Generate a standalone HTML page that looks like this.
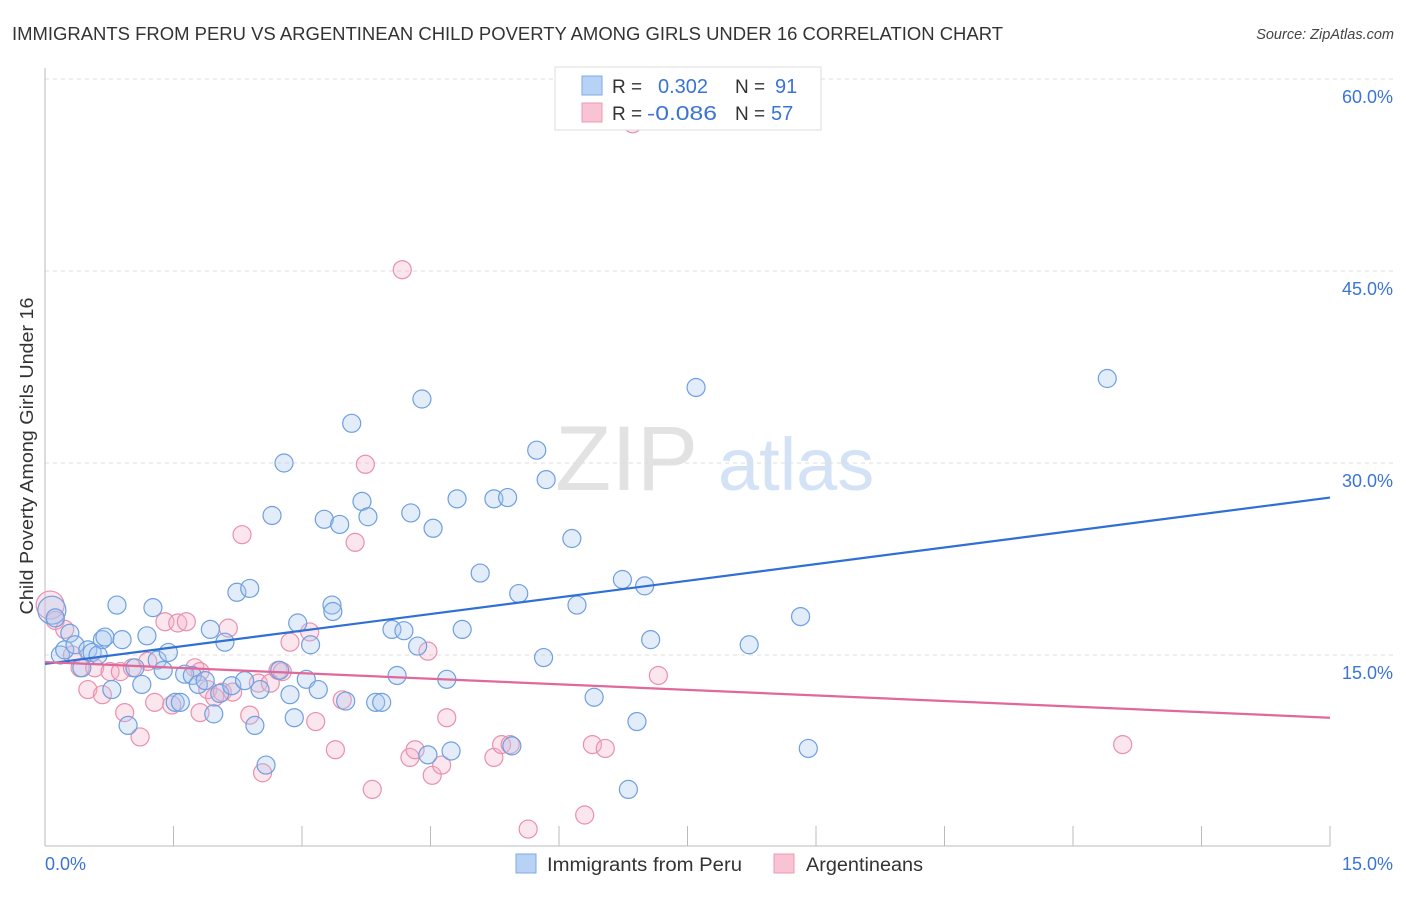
<!DOCTYPE html>
<html><head><meta charset="utf-8"><style>
body{margin:0;background:#fff;font-family:"Liberation Sans",sans-serif;}
svg text{font-family:"Liberation Sans",sans-serif;}
</style></head><body>
<svg id="chart" width="1406" height="892" xmlns="http://www.w3.org/2000/svg">
<text x="12" y="40" font-size="18" fill="#333" textLength="991" lengthAdjust="spacingAndGlyphs">IMMIGRANTS FROM PERU VS ARGENTINEAN CHILD POVERTY AMONG GIRLS UNDER 16 CORRELATION CHART</text>
<text x="1394" y="39" font-size="14.5" fill="#444" text-anchor="end" font-style="italic">Source: ZipAtlas.com</text>
<text transform="translate(33,456) rotate(-90)" font-size="18" fill="#333" text-anchor="middle" textLength="317" lengthAdjust="spacingAndGlyphs">Child Poverty Among Girls Under 16</text>
<g><text x="555" y="490" font-size="92" fill="#e2e2e2" font-family="Liberation Serif">ZIP</text><text x="718" y="490" font-size="74" fill="#d4e2f5">atlas</text></g>
<g id="grid"></g><g id="axes"></g><g id="marks"></g>
<g>
<rect x="555" y="67" width="266" height="63" fill="#fff" stroke="#ddd"/>
<rect x="582" y="76" width="20" height="19" fill="#b8d2f5" stroke="#7ea9e3"/>
<rect x="582" y="103" width="20" height="19" fill="#f8c3d3" stroke="#ec98b5"/>
<text x="612" y="93" font-size="19" fill="#333">R =</text><text x="658" y="93" font-size="20" fill="#3a74d4">0.302</text>
<text x="735" y="93" font-size="19" fill="#333">N =</text><text x="775" y="93" font-size="20" fill="#3a74d4">91</text>
<text x="612" y="120" font-size="19" fill="#333">R =</text><text x="647" y="120" font-size="20" fill="#3a74d4" textLength="70" lengthAdjust="spacingAndGlyphs">-0.086</text>
<text x="735" y="120" font-size="19" fill="#333">N =</text><text x="771" y="120" font-size="20" fill="#3a74d4">57</text>
</g>
<g>
<rect x="516" y="854" width="20" height="19" fill="#b8d2f5" stroke="#7ea9e3"/>
<text x="547" y="871" font-size="19" fill="#333" textLength="195" lengthAdjust="spacingAndGlyphs">Immigrants from Peru</text>
<rect x="774" y="854" width="20" height="19" fill="#f8c3d3" stroke="#ec98b5"/>
<text x="806" y="871" font-size="19" fill="#333" textLength="117" lengthAdjust="spacingAndGlyphs">Argentineans</text>
</g>
</svg>
<script>
const yTicks=[15,30,45,60];
const yTickLabels=["15.0%","30.0%","45.0%","60.0%"];
const xTickLabels=["0.0%","15.0%"];
const blueX=[0.08,0.12,0.18,0.23,0.29,0.35,0.43,0.50,0.55,0.62,0.67,0.70,0.78,0.84,0.90,0.97,1.05,1.13,1.19,1.26,1.31,1.38,1.44,1.52,1.58,1.63,1.72,1.79,1.87,1.93,1.97,2.04,2.10,2.18,2.24,2.33,2.39,2.45,2.51,2.58,2.65,2.74,2.79,2.86,2.91,2.95,3.05,3.10,3.19,3.26,3.35,3.36,3.44,3.51,3.58,3.70,3.77,3.86,3.93,4.05,4.11,4.19,4.27,4.35,4.40,4.47,4.53,4.69,4.74,4.81,4.87,5.08,5.24,5.40,5.45,5.53,5.74,5.82,5.85,6.15,6.21,6.41,6.74,6.81,6.91,7.00,7.07,7.60,8.22,8.82,8.91,12.40];
const blueY=[18.5,17.9,15.0,15.4,16.7,15.8,14.0,15.4,15.2,15.0,16.2,16.4,12.3,18.9,16.2,9.5,14.0,12.7,16.5,18.7,14.6,13.8,15.2,11.3,11.3,13.5,13.4,12.7,13.0,17.0,10.4,12.0,16.0,12.6,19.9,13.0,20.2,9.5,12.3,6.4,25.9,13.8,30.0,11.9,10.1,17.5,13.1,15.8,12.3,25.6,18.9,18.4,25.2,11.4,33.1,27.0,25.8,11.3,11.3,17.0,13.4,16.9,26.1,15.7,35.0,7.2,24.9,13.1,7.5,27.2,17.0,21.4,27.2,27.3,7.9,19.8,31.0,14.8,28.7,24.1,18.9,11.7,20.9,4.5,9.8,20.4,16.2,35.9,15.8,18.0,7.7,36.6];
const pinkX=[0.06,0.12,0.23,0.32,0.41,0.50,0.58,0.67,0.76,0.88,0.93,1.02,1.11,1.20,1.28,1.40,1.48,1.55,1.65,1.75,1.81,1.81,1.90,1.98,2.07,2.14,2.19,2.30,2.39,2.49,2.54,2.63,2.72,2.77,2.86,3.09,3.16,3.39,3.47,3.62,3.74,3.82,4.17,4.26,4.32,4.47,4.52,4.63,4.69,5.24,5.33,5.43,5.64,6.30,6.39,6.54,6.86,7.16,12.58];
const pinkY=[18.9,17.7,17.0,15.0,14.0,12.3,14.0,11.9,13.7,13.7,10.5,14.0,8.6,14.5,11.3,17.6,11.1,17.5,17.6,14.0,13.7,10.5,12.3,11.7,12.1,17.1,12.1,24.4,10.3,12.8,5.8,12.8,13.8,13.7,16.0,16.8,9.8,7.6,11.5,23.8,29.9,4.5,45.1,7.0,7.6,15.3,5.6,6.4,10.1,7.0,8.0,8.0,1.4,2.5,8.0,7.7,56.5,13.4,8.0];
const blueTrend=[14.3,27.3];
const pinkTrend=[14.45,10.1];
const NS="http://www.w3.org/2000/svg";
const X0=45,X1=1330,Y0=847,PY=12.8;
function sx(v){return X0+(v/15)*(X1-X0);}
function sy(v){return Y0-v*PY;}
function mk(t,a,p){const e=document.createElementNS(NS,t);for(const k in a)e.setAttribute(k,a[k]);p.appendChild(e);return e;}
const grid=document.getElementById('grid'),axes=document.getElementById('axes'),marks=document.getElementById('marks');
yTicks.forEach((v,i)=>{
 const l=mk('line',{x1:X0,x2:1394,y1:sy(v),y2:sy(v),stroke:'#ddd','stroke-dasharray':'4,4'},grid);
 
 
 const t=mk('text',{x:1393,y:sy(v)+24,'font-size':18,fill:'#3a74d4','text-anchor':'end'},axes);
 t.textContent=yTickLabels[i];
 
 
});
const ax=mk('line',{x1:X0,x2:X1,y1:846,y2:846,stroke:'#bbb'},axes);


const ay=mk('line',{x1:X0,x2:X0,y1:68,y2:846,stroke:'#bbb'},axes);


for(let i=0;i<=10;i++){const tk=mk('line',{x1:sx(i*1.5),x2:sx(i*1.5),y1:826,y2:846,stroke:'#bbb'},axes);
 
 }
[[0,'start',45],[15,'end',1393]].forEach((d,i)=>{const t=mk('text',{x:d[2],y:870,'font-size':18,fill:'#3a74d4','text-anchor':d[1]},axes);t.textContent=xTickLabels[i];
 
 });
function pts(X,Y,fill,stroke,name){X.forEach((x,i)=>{const c=mk('circle',{cx:sx(x),cy:sy(Y[i]),r:i==0?14:9,fill:fill,'fill-opacity':0.33,stroke:stroke,'stroke-width':1.2},marks);
 
 });}
pts(pinkX,pinkY,'#f6b4c9','#e890ae','argentineans-point');
pts(blueX,blueY,'#a9c7f0','#6e9fe0','peru-point');
const bl=mk('line',{x1:sx(0),y1:sy(blueTrend[0]),x2:sx(15),y2:sy(blueTrend[1]),stroke:'#2f6fd6','stroke-width':2.2},marks);


const pl=mk('line',{x1:sx(0),y1:sy(pinkTrend[0]),x2:sx(15),y2:sy(pinkTrend[1]),stroke:'#e0689a','stroke-width':2.2},marks);


</script>
</body></html>
